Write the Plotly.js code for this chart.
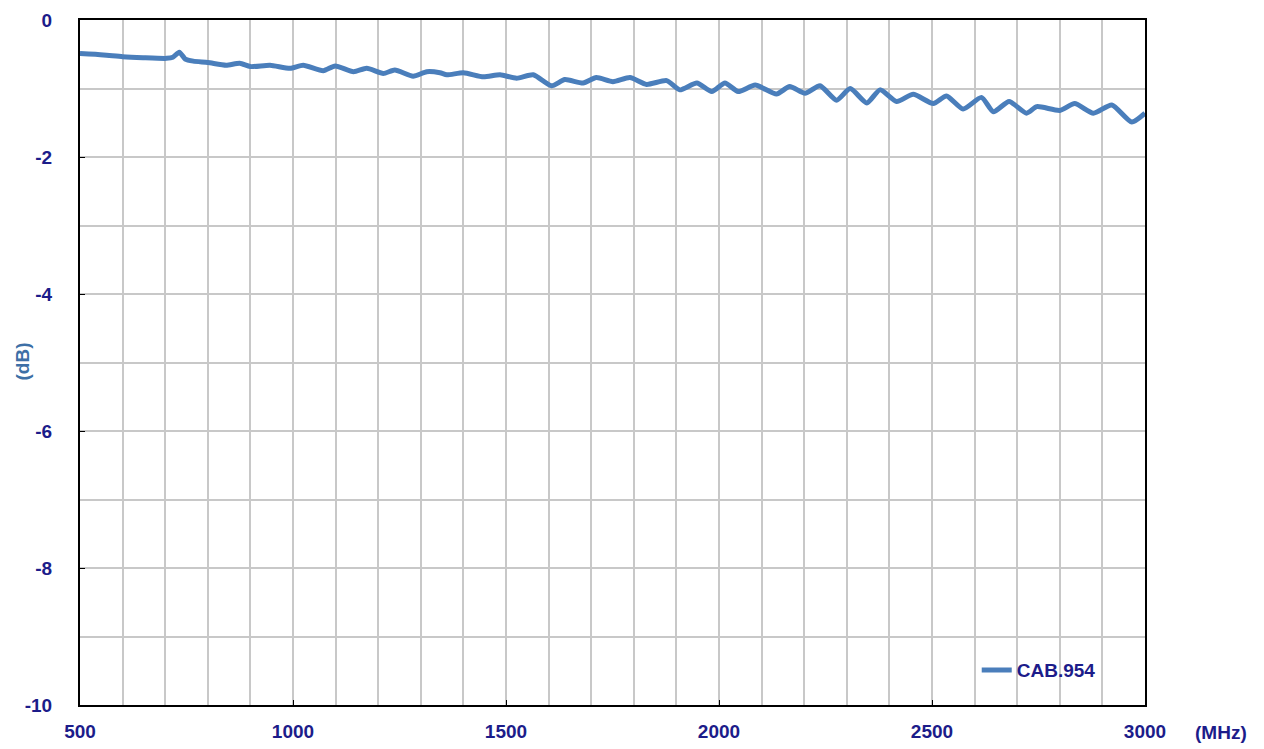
<!DOCTYPE html>
<html>
<head>
<meta charset="utf-8">
<script src="https://cdn.plot.ly/plotly-3.0.1.min.js"></script>
<style>html,body{margin:0;padding:0;background:#fff;}#chart{width:1264px;height:749px;}</style>
</head>
<body>
<div id="chart"></div>
<script>
const seriesName = "CAB.954";
const freqMHz = [500,555,600,648,703,718,733,747,766,800,843,875,900,946,993,1024,1071,1099,1142,1173,1212,1239,1282,1314,1345,1361,1400,1447,1486,1525,1564,1607,1638,1681,1712,1751,1791,1830,1877,1908,1948,1983,2014,2045,2085,2135,2166,2202,2237,2276,2308,2347,2378,2417,2456,2503,2534,2573,2616,2644,2681,2722,2746,2800,2835,2879,2922,2969,3000];
const lossDB = [-0.49,-0.51,-0.535,-0.55,-0.56,-0.545,-0.47,-0.57,-0.60,-0.62,-0.66,-0.63,-0.68,-0.66,-0.705,-0.66,-0.74,-0.67,-0.755,-0.705,-0.78,-0.73,-0.82,-0.755,-0.77,-0.80,-0.77,-0.83,-0.80,-0.85,-0.80,-0.96,-0.87,-0.92,-0.84,-0.90,-0.84,-0.94,-0.885,-1.02,-0.92,-1.045,-0.92,-1.045,-0.95,-1.08,-0.97,-1.07,-0.96,-1.17,-1.00,-1.21,-1.02,-1.19,-1.085,-1.22,-1.11,-1.30,-1.13,-1.34,-1.19,-1.36,-1.265,-1.32,-1.22,-1.36,-1.24,-1.49,-1.36];
const xTicks = [500,1000,1500,2000,2500,3000];
const yTicks = [0,-2,-4,-6,-8,-10];

const tickFont = {family:"Arial, 'Liberation Sans', sans-serif", size:19, color:"#1c1c8a", weight:"bold"};

const trace = {
  x: freqMHz, y: lossDB, type:"scatter", mode:"lines", name: seriesName,
  line:{color:"#4a7ebb", width:5, shape:"spline", smoothing:0.6}
};

const layout = {
  width:1264, height:749,
  margin:{l:80, r:119, t:20, b:44},
  paper_bgcolor:"#fff", plot_bgcolor:"#fff",
  showlegend:true,
  legend:{x:0.842, y:0.051, xanchor:"left", yanchor:"middle", bgcolor:"rgba(255,255,255,0)", borderwidth:0,
    font:tickFont, itemwidth:30},
  xaxis:{range:[500,3000], tickvals:xTicks, ticktext:xTicks.map(String), ticks:"inside", ticklen:5, tickcolor:"#000",
    showgrid:false, zeroline:false, showline:true, linecolor:"#000", linewidth:2, mirror:true,
    tickfont:tickFont, ticklabelstandoff:8,
    minor:{dtick:100, tick0:500, showgrid:true, gridcolor:"#c8c8c8", gridwidth:2, ticks:""}},
  yaxis:{range:[-10,0], tickvals:yTicks, ticktext:yTicks.map(String), ticks:"inside", ticklen:5, tickcolor:"#000",
    showgrid:false, zeroline:false, showline:true, linecolor:"#000", linewidth:2, mirror:true,
    tickfont:tickFont, ticklabelstandoff:22,
    minor:{dtick:1, tick0:0, showgrid:true, gridcolor:"#c8c8c8", gridwidth:2, ticks:""}},
  annotations:[
    {text:"(MHz)", xref:"paper", yref:"paper", x:1.0, y:0, xshift:76, yshift:-27, showarrow:false,
      font:tickFont, xanchor:"center", yanchor:"middle"},
    {text:"(dB)", xref:"paper", yref:"paper", x:0, y:0.5, xshift:-58, yshift:1, textangle:-90, showarrow:false,
      font:{family:"Arial, 'Liberation Sans', sans-serif", size:19, color:"#3d6fa6", weight:"bold"}, xanchor:"center", yanchor:"middle"}
  ]
};

Plotly.newPlot("chart", [trace], layout, {displayModeBar:false, staticPlot:true});
</script>
</body>
</html>
